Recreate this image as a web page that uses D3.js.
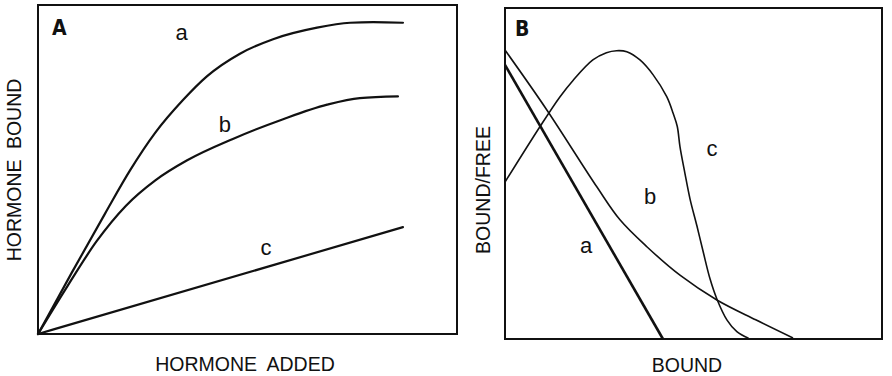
<!DOCTYPE html>
<html>
<head>
<meta charset="utf-8">
<script src="https://cdn.jsdelivr.net/npm/d3@7"></script>
<style>
body { margin: 0; background: #fff; }
text { font-family: "Liberation Sans", Arial, sans-serif; fill: #111; }
</style>
</head>
<body>
<script>
// panel A: hormone added (x) vs hormone bound (y), arbitrary units 0-100
var addedA = [0, 8, 16, 22, 28, 34.6, 40.3, 48.2, 56.1, 66.6, 74.5, 80.0, 87.1];
var boundA = [0, 18.5, 36.6, 49.8, 61.2, 71.1, 78.3, 85.2, 89.6, 93.1, 94.6, 94.8, 94.6];
var addedB = [0, 7, 14, 21, 28, 35.6, 46.5, 58.5, 69.0, 76.8, 85.9];
var boundB = [0, 14.5, 28.2, 39.0, 46.7, 52.8, 59.3, 65.3, 69.7, 71.7, 72.2];
var addedC = [0, 54.7, 87.1];
var boundC = [0, 20.4, 32.5];

// panel B: bound (x) vs bound/free (y)
var scatX_a = [0, 41.9];
var scatY_a = [82.8, 0];
var scatX_b = [0, 11.1, 24.4, 30.5, 37.7, 46.5, 56.2, 66.5, 76.4];
var scatY_b = [87.3, 69.2, 45.9, 36.0, 27.8, 19.2, 11.8, 5.8, 0.3];
var scatX_c = [0, 9.3, 14.6, 18.1, 23.3, 26.9, 29.6, 32.3, 35.8, 39.3, 42.9, 44.6, 45.7, 46.4, 47.7, 49.1, 50.9, 52.6, 54.4, 56.2, 58.9, 61.5, 64.6];
var scatY_c = [47.4, 64.2, 73.2, 78.2, 84.3, 86.5, 87.1, 86.8, 84.3, 79.8, 73.2, 68.2, 64.2, 58.2, 50.2, 42.2, 34.2, 26.2, 18.1, 12.1, 5.7, 2.2, 0.2];

var w = 892, h = 376;

var svg = d3.select("body").append("svg")
    .attr("width", w)
    .attr("height", h);

function zip(xs, ys) {
    return xs.map(function(x, i) { return [x, ys[i]]; });
}

// Panel A
var xA = d3.scaleLinear().domain([0, 100]).range([38, 457]);
var yA = d3.scaleLinear().domain([0, 100]).range([334, 5]);
var lineA = d3.line()
    .x(function(d) { return xA(d[0]); })
    .y(function(d) { return yA(d[1]); })
    .curve(d3.curveMonotoneX);

svg.append("rect")
    .attr("x", 38).attr("y", 5)
    .attr("width", 419).attr("height", 329)
    .attr("fill", "none").attr("stroke", "#111").attr("stroke-width", 2);

var seriesA = [zip(addedA, boundA), zip(addedB, boundB), zip(addedC, boundC)];
svg.selectAll(".curveA")
    .data(seriesA)
    .enter()
    .append("path")
    .attr("class", "curveA")
    .attr("d", lineA)
    .attr("fill", "none")
    .attr("stroke", "#111")
    .attr("stroke-width", 2.2)
    .attr("stroke-linecap", "round");

// Panel B
var xB = d3.scaleLinear().domain([0, 100]).range([505, 882]);
var yB = d3.scaleLinear().domain([0, 100]).range([339, 8]);
var lineB = d3.line()
    .x(function(d) { return xB(d[0]); })
    .y(function(d) { return yB(d[1]); })
    .curve(d3.curveCatmullRom);

svg.append("rect")
    .attr("x", 505).attr("y", 8)
    .attr("width", 377).attr("height", 331)
    .attr("fill", "none").attr("stroke", "#111").attr("stroke-width", 2);

var seriesB = [
    {pts: zip(scatX_a, scatY_a), sw: 2.6},
    {pts: zip(scatX_b, scatY_b), sw: 1.6},
    {pts: zip(scatX_c, scatY_c), sw: 1.6}
];
svg.selectAll(".curveB")
    .data(seriesB)
    .enter()
    .append("path")
    .attr("class", "curveB")
    .attr("d", function(d) { return lineB(d.pts); })
    .attr("fill", "none")
    .attr("stroke", "#111")
    .attr("stroke-width", function(d) { return d.sw; });

// curve letters
var lettersA = [["a", 34.3, 89.5], ["b", 44.6, 61.5], ["c", 54.4, 24.0]];
var lettersB = [["a", 21.5, 26.0], ["b", 38.5, 40.8], ["c", 54.9, 55.3]];

svg.selectAll(".labA")
    .data(lettersA)
    .enter()
    .append("text")
    .attr("class", "labA")
    .attr("x", function(d) { return xA(d[1]); })
    .attr("y", function(d) { return yA(d[2]); })
    .attr("text-anchor", "middle")
    .attr("font-size", "22px")
    .text(function(d) { return d[0]; });

svg.selectAll(".labB")
    .data(lettersB)
    .enter()
    .append("text")
    .attr("class", "labB")
    .attr("x", function(d) { return xB(d[1]); })
    .attr("y", function(d) { return yB(d[2]); })
    .attr("text-anchor", "middle")
    .attr("font-size", "22px")
    .text(function(d) { return d[0]; });

// panel tags
svg.append("text").attr("x", 52).attr("y", 35)
    .style("font-family", "'Liberation Sans Narrow', 'DejaVu Sans Condensed', sans-serif")
    .attr("font-weight", "bold").attr("font-size", "21px").text("A");
svg.append("text").attr("x", 515).attr("y", 36)
    .style("font-family", "'Liberation Sans Narrow', 'DejaVu Sans Condensed', sans-serif")
    .attr("font-weight", "bold").attr("font-size", "21px").text("B");

// axis titles
svg.append("text").attr("x", 245).attr("y", 371)
    .attr("text-anchor", "middle").attr("font-size", "19.5px")
    .attr("word-spacing", "5px").text("HORMONE ADDED");
svg.append("text").attr("transform", "translate(21,170) rotate(-90)")
    .attr("text-anchor", "middle").attr("font-size", "19.5px")
    .attr("word-spacing", "5px").text("HORMONE BOUND");
svg.append("text").attr("x", 687).attr("y", 372)
    .attr("text-anchor", "middle").attr("font-size", "19.5px")
    .text("BOUND");
svg.append("text").attr("transform", "translate(490,190) rotate(-90)")
    .attr("text-anchor", "middle").attr("font-size", "19.5px")
    .text("BOUND/FREE");
</script>
</body>
</html>
